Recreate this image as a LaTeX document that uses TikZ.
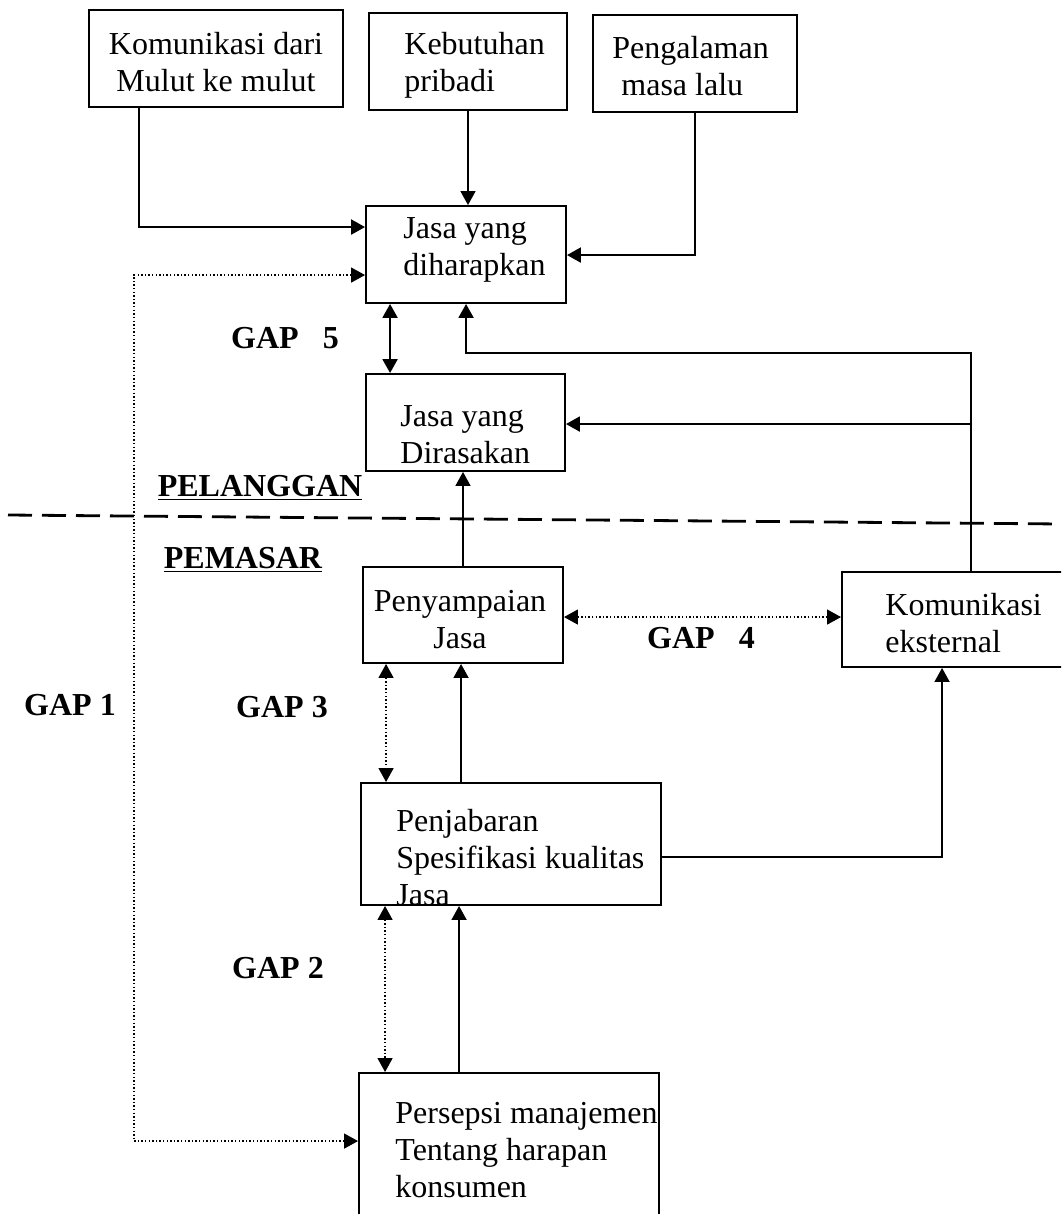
\documentclass[tikz,border=0pt]{standalone}
\usepackage{fontspec}
\setmainfont{Liberation Serif}
\usetikzlibrary{arrows.meta,fit,calc}
\begin{document}
\begin{tikzpicture}[x=0.5pt,y=-0.5pt,
  box/.style={draw, line width=0.95pt, inner sep=0pt},
  txt/.style={font=\fontsize{16}{18.5}\selectfont, inner sep=0pt, align=left},
  gaplabel/.style={font=\fontsize{16}{19}\selectfont\bfseries, inner sep=0pt},
  link/.style={line width=0.8pt},
  heavy/.style={line width=1.1pt},
  arr/.style={link, -{Triangle[length=7pt,width=7.5pt]}},
  dbl/.style={link, {Triangle[length=7pt,width=7.5pt]}-{Triangle[length=7pt,width=7.5pt]}},
  dotlink/.style={line width=0.7pt, dash pattern=on 0.7pt off 1.1pt,
    {Triangle[length=7pt,width=7.5pt]}-{Triangle[length=7pt,width=7.5pt]}},
  divider/.style={line width=1.4pt, dash pattern=on 12pt off 5pt}]
\useasboundingbox (0,0) rectangle (1061,1214);
\clip (0,0) rectangle (1061,1214);

% boxes
\node[box, fit={(89,10) (343,107)}]   (A) {};
\node[box, fit={(369,13) (567,110)}]  (B) {};
\node[box, fit={(593,15) (797,112)}]  (C) {};
\node[box, fit={(366,206) (566,303)}] (D) {};
\node[box, fit={(366,374) (565,471)}] (E) {};
\node[box, fit={(363,567) (563,663)}] (F) {};
\node[box, fit={(842,572) (1075,667)}] (G) {};
\node[box, fit={(361,783) (661,905)}] (H) {};
\node[box, fit={(359,1073) (659,1260)}] (P) {};

% box texts
\node[txt, align=center] (tA) at (216,62) {Komunikasi dari\\Mulut ke mulut};
\node[txt, anchor=west] (tB) at (404,65) {Kebutuhan\\pribadi};
\node[txt, anchor=west] (tC) at (612,66) {Pengalaman\\\hspace*{4.5pt}masa lalu};
\node[txt, anchor=west] (tD) at (403,250) {Jasa yang\\diharapkan};
\node[txt, anchor=west] (tE) at (400,435) {Jasa yang\\Dirasakan};
\node[txt, align=center] (tF) at (460,620) {Penyampaian\\Jasa};
\node[txt, anchor=west] (tG) at (885,623) {Komunikasi\\eksternal};
\node[txt, anchor=west] (tH) at (396,858) {Penjabaran\\Spesifikasi kualitas\\Jasa};
\node[txt, anchor=west] (tP) at (395,1150) {Persepsi manajemen\\Tentang harapan\\konsumen};

% labels
\node[gaplabel] (g5) at (285,338) {GAP\ \ \ 5};
\node[gaplabel] (pel) at (260,488) {\underline{PELANGGAN}};
\node[gaplabel] (pem) at (243,560) {\underline{PEMASAR}};
\node[gaplabel] (g4) at (701,638) {GAP\ \ \ 4};
\node[gaplabel] (g1) at (70,705) {GAP 1};
\node[gaplabel] (g3) at (282,707) {GAP 3};
\node[gaplabel] (g2) at (278,968) {GAP 2};

% customer / marketer divider
\coordinate (dl) at (8,515);
\coordinate (dr) at (1061,524);
\draw[divider] (dl) -- (dr);

% inputs to expected service
\draw[arr, heavy] ($(A.south west)+(51,0)$) |- ($(D.north west)+(0,22)$);
\draw[arr] (B.south) -- (B.south |- D.north);
\draw[arr, heavy] (C.south) |- ($(D.north east)+(0,50)$);

% gap 1
\draw[dotlink] ($(D.north west)+(0,70)$) -| ($(P.north west)+(-224,69)$) -- ($(P.north west)+(0,69)$);

% gap 5
\draw[dbl, heavy] ($(D.south west)+(25,0)$) -- ($(E.north west)+(25,0)$);

% external communication feedback
\draw[arr, heavy] ($(G.north west)+(130,0)$) |- ($(D.south west)+(101,49)$) -- ($(D.south west)+(101,0)$);
\draw[arr, heavy] ($(G.north west)+(130,-147)$) -- ($(E.north east)+(0,51)$);

% delivery to perceived service
\draw[arr] (F.north) -- (F.north |- E.south);

% gap 4
\draw[dotlink] ($(F.north east)+(0,51)$) -- ($(G.north west)+(0,46)$);

% gap 3
\draw[dotlink] ($(F.south west)+(24,0)$) -- ($(H.north west)+(26,0)$);
\draw[arr] ($(H.north west)+(101,0)$) -- ($(F.south west)+(99,0)$);

% specifications to external communication
\draw[arr] ($(H.north east)+(0,75)$) -| ($(G.south west)+(101,0)$);

% gap 2
\draw[dotlink] ($(H.south west)+(25,0)$) -- ($(P.north west)+(27,0)$);
\draw[arr] ($(P.north west)+(101,0)$) -- ($(H.south west)+(99,0)$);
\end{tikzpicture}
\end{document}
